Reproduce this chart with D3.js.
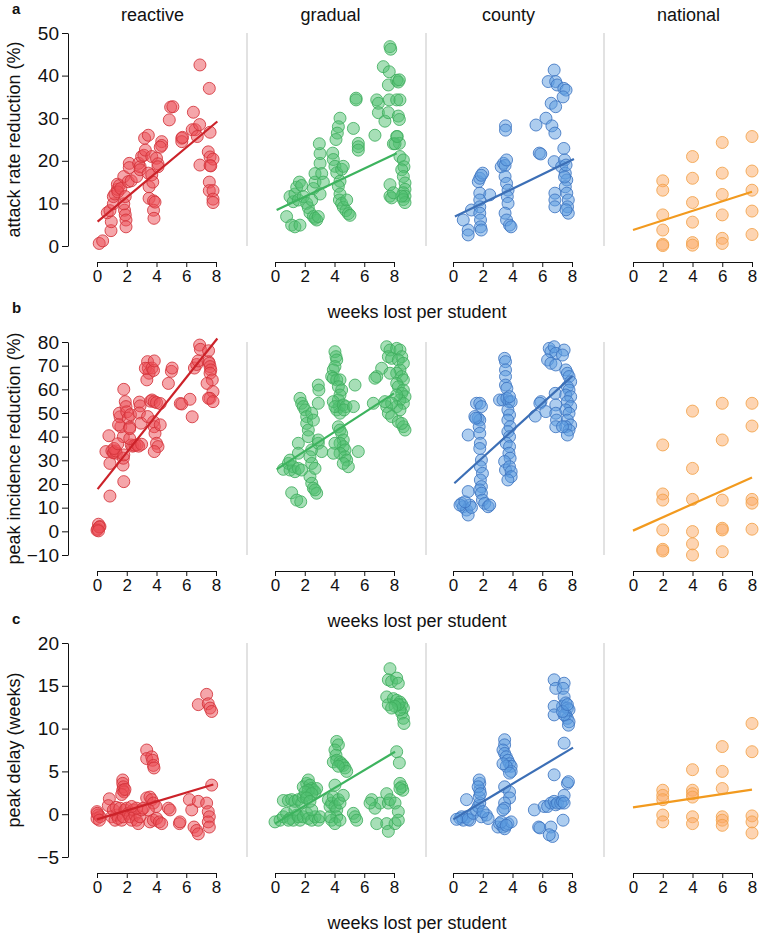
<!DOCTYPE html>
<html><head><meta charset="utf-8">
<script src="https://cdn.jsdelivr.net/npm/d3@7"></script>
<style>
body{margin:0;background:#fff;}
svg{display:block;font-family:"Liberation Sans",Arial,Helvetica,sans-serif;}
</style></head><body><svg id="chart" width="761" height="935"></svg>
<script>
// ---------- DATA ----------
const strategies = ["reactive", "gradual", "county", "national"];
const panelLetters = ["a", "b", "c"];
const yLabels = ["attack rate reduction (%)", "peak incidence reduction (%)", "peak delay (weeks)"];
const xLabel = "weeks lost per student";
const xTicks = [0, 2, 4, 6, 8];
const yTicksAttack = [0, 10, 20, 30, 40, 50];
const yTicksPeak = [-10, 0, 10, 20, 30, 40, 50, 60, 70, 80];
const yTicksDelay = [-5, 0, 5, 10, 15, 20];

// [weeks lost, attack rate reduction %]
const attackReactive = [[0.15,0.6],[0.38,1.2],[0.94,3.6],[0.96,5.7],[0.69,7.8],[0.87,8.3],[1.1,9.9],[1.1,11.6],[1.2,12.2],[1.37,13.3],[1.37,14.5],[1.5,14.2],[1.4,12.7],[1.6,13.5],[1.8,16.3],[1.85,8.4],[1.9,7.3],[1.95,6.1],[1.95,4.5],[1.8,9.9],[1.9,11.6],[2.1,15.1],[2.17,19.4],[2.17,18.4],[2.3,15.3],[2.67,16.3],[2.8,19.4],[2.9,18.6],[2.9,17.9],[3.0,21],[3.15,21.3],[3.2,25.3],[3.25,22.5],[3.45,26],[3.45,17.1],[3.5,13.9],[3.5,11.2],[3.68,21],[3.68,16.7],[3.75,15],[3.8,10.6],[3.8,8.4],[3.83,6.5],[3.9,10.3],[4.0,20.6],[4.1,19.3],[4.1,18.6],[4.35,24.5],[4.35,23.6],[4.25,23.2],[4.95,32.6],[5.1,32.7],[4.86,29.6],[5.7,25.3],[5.7,24.5],[5.75,25.5],[6.48,31.4],[6.6,27.3],[6.4,27.3],[6.74,25.7],[6.9,28.5],[6.92,42.5],[6.92,19],[7.55,37],[7.6,26.7],[7.48,22.1],[7.6,20.9],[7.6,18.9],[7.8,20.4],[7.55,15],[7.55,13],[7.8,13],[7.8,11],[7.8,10.2],[7.65,18.8]];
const attackGradual = [[0.78,6.9],[1.12,4.9],[1.34,4.5],[1.68,4.9],[1.01,11.6],[1.23,10.4],[1.34,12.2],[1.46,13.8],[1.64,15],[1.79,14.2],[1.57,10.8],[1.9,11.6],[2.13,10],[2.24,9],[2.35,7.8],[2.58,6.9],[2.8,6.1],[2.69,6.5],[2.91,6.9],[2.47,10.8],[2.58,13.5],[2.69,15],[2.69,17],[3.03,19.4],[3.03,21.7],[2.98,24],[3.14,17],[3.25,15],[3.03,12.2],[4.37,30],[4.26,28],[4.19,26.5],[4.1,25],[3.88,21.8],[3.92,20.3],[4.03,18.7],[4.15,17.2],[4.37,15.2],[4.26,14],[4.48,18],[4.59,18.7],[4.37,12.2],[4.33,10.8],[4.48,10],[4.59,9.1],[4.77,8.3],[4.93,7.6],[5.04,7.2],[4.82,10.8],[5.27,27.6],[5.45,34.7],[5.45,34.3],[5.6,24.1],[5.6,23.3],[5.6,22.5],[6.72,26],[6.84,34.3],[6.95,33.5],[7.28,42.1],[6.95,31.3],[7.39,29.3],[7.62,31.3],[7.68,34.3],[7.68,40.9],[7.73,46.8],[7.78,46.2],[7.62,37.8],[8.18,38.9],[8.29,38.5],[8.36,39],[8.18,34.3],[8.29,30.5],[8.36,29.7],[8.4,34.3],[8.18,25.7],[8.36,24.1],[8.4,21],[8.63,20.2],[8.67,18.6],[8.52,17.9],[8.63,16.3],[8.74,14.8],[8.74,13.3],[8.63,12.5],[8.74,11.7],[8.63,10.9],[8.74,10.2],[8.52,11.7],[7.73,14.4],[7.73,11.7],[7.84,11.3],[7.96,12.5],[7.96,24],[8.07,24],[8.22,25.7]];
const attackCounty = [[0.69,6.1],[1.02,3.75],[1.02,2.6],[1.24,8.45],[1.7,15.1],[1.8,15.9],[2.0,17.1],[1.9,16.6],[1.8,12.4],[1.8,10.8],[1.8,9.2],[1.8,7.7],[1.85,6.1],[1.85,4.5],[1.9,3.75],[2.47,12],[3.24,18.6],[3.4,19.4],[3.5,18.9],[3.6,20.2],[3.53,28.2],[3.53,27.2],[3.5,16.3],[3.6,14.7],[3.7,13.1],[3.65,11.6],[3.7,10],[3.5,7.7],[3.6,6.1],[3.8,4.9],[3.9,4.5],[5.58,28.4],[5.8,21.8],[5.9,21.6],[6.25,30],[6.4,38.6],[6.8,41.3],[6.9,38.6],[7.0,37.8],[6.6,33.5],[6.9,32.7],[6.65,28.2],[6.85,26.5],[7.45,37],[7.6,36.6],[7.4,35],[7.45,22.9],[6.8,19.8],[7.3,18.6],[7.55,17.1],[7.65,15.5],[7.55,13.9],[7.65,12.4],[7.75,10.8],[7.7,9.2],[7.75,7.7],[6.85,12.4],[6.85,10.8],[6.85,9.2],[7.5,20.2],[7.6,19],[7.5,16.2],[7.6,8.5]];
const attackNational = [[2,15.3],[2,13.1],[2,7.3],[2,3.75],[2,0.4],[2,0.1],[4,21],[4,15.9],[4,10.2],[4,5.6],[4,0.8],[4,0.2],[6,24.3],[6,17.1],[6,12.1],[6,7.3],[6,1.8],[6,0.6],[8,25.7],[8,17.6],[8,13.1],[8,8.2],[8,2.7]];

// [weeks lost, peak incidence reduction %]
const peakReactive = [[0.05,1],[0.1,3],[0.2,2],[0.0,0.5],[0.15,1.8],[0.1,0.2],[0.87,14.9],[0.87,28.7],[0.8,40.4],[0.6,33.7],[1.0,34],[1.15,33.5],[1.3,33],[1.1,33.2],[1.25,34],[1.15,35],[1.8,21],[1.75,28],[1.77,30.9],[1.8,32.3],[1.77,40],[1.6,44.2],[1.55,48.4],[1.5,49.9],[1.45,45],[1.4,37],[1.8,60],[1.9,54.8],[1.95,52.7],[2.0,50.5],[2.1,47.8],[2.2,44],[2.25,49.3],[2.3,36.5],[2.4,36],[2.55,36.3],[2.7,36.6],[2.8,36],[3.0,36.8],[2.2,39.2],[2.2,43.4],[2.85,54.6],[2.9,53],[2.85,50],[2.95,45.7],[3.4,71.7],[3.45,68.9],[3.5,66.8],[3.35,64],[3.25,68.9],[3.7,69],[3.8,68],[3.85,72],[3.6,55],[3.7,55.5],[3.85,54.8],[4.0,54.4],[4.25,54],[3.8,46.3],[3.85,44.2],[3.9,41.4],[4.0,37.2],[4.1,35.8],[3.85,33.7],[3.4,48.5],[4.25,45],[4.8,62.5],[5.0,67.6],[5.05,69],[5.6,54],[5.7,53.8],[6.25,55.8],[6.4,48.4],[6.55,69],[6.7,70.5],[6.8,72],[6.9,78.7],[6.95,76.9],[7.5,76.3],[7.5,71.7],[7.55,71],[7.6,69.6],[7.65,68.2],[7.6,66.8],[7.75,64],[7.4,62.5],[7.8,59],[7.6,56.2],[7.5,56.2],[7.8,54.8]];
const peakGradual = [[0.56,26.2],[0.9,28.7],[1.01,25.9],[1.23,27.3],[1.34,25.2],[1.57,26.6],[1.79,25.9],[1.01,30.1],[1.12,16.3],[1.46,13.2],[1.73,12.5],[1.57,37.2],[1.57,33],[1.68,56.2],[1.79,54.1],[1.9,52.7],[2.02,51.3],[2.13,48.5],[2.13,45.6],[2.24,42.8],[2.24,40],[2.47,49.9],[2.58,47],[2.47,34.4],[2.35,31.5],[2.47,28.7],[2.35,23.1],[2.47,20.3],[2.58,18.2],[2.8,16.1],[2.69,17.5],[2.91,61.8],[2.95,59.7],[2.91,54.1],[2.91,37.2],[3.14,33.7],[2.91,38.6],[2.69,26.6],[4.03,75.9],[4.1,73.8],[4.15,72.4],[4.03,69.6],[3.92,68.2],[3.81,65.4],[3.92,64.7],[4.15,64],[4.37,64],[4.26,61.1],[4.48,59.7],[4.37,57.6],[4.26,55.5],[4.33,52.7],[4.15,51.3],[4.37,49.9],[3.92,54.8],[4.03,52.7],[4.59,53.4],[4.77,52.7],[4.64,51.3],[5.27,52.7],[5.38,61.8],[4.26,44.2],[4.37,42.8],[4.48,41.4],[4.59,38.6],[4.37,37.2],[4.59,35.8],[4.71,34.4],[4.37,33],[4.71,31.5],[4.82,30.1],[4.93,27.3],[4.59,28.7],[3.92,33],[4.03,37.2],[5.6,33.7],[6.61,54.1],[6.84,65.4],[6.72,64.7],[7.17,68.9],[7.51,78],[7.73,76.6],[7.62,73.8],[7.84,73.1],[8.18,77.3],[8.4,76.6],[8.52,73.8],[8.29,72.4],[8.63,71],[8.4,68.2],[8.18,66.8],[8.52,65.4],[8.63,64],[7.73,66.8],[8.18,62.5],[8.29,61.1],[8.63,59.7],[8.52,58.3],[8.74,56.9],[8.4,55.5],[8.63,54.1],[8.18,52.7],[8.4,51.3],[7.51,52.7],[7.62,49.9],[7.84,48.5],[8.29,46.3],[8.63,44.2],[8.74,42.8],[8.52,45.6],[8.18,57.6],[7.84,54.1],[7.39,54.8]];
const peakCounty = [[0.58,11.8],[0.69,10.4],[0.91,9],[1.02,6.9],[1.13,11.1],[1.24,10.1],[0.47,11.1],[0.8,12.5],[1.02,16.8],[1.02,40.7],[1.58,54.1],[1.8,54.1],[1.91,52.7],[1.69,47.8],[1.8,47],[1.76,44.2],[1.8,41.4],[1.84,37.2],[1.8,35],[1.91,30.1],[1.84,27.3],[1.98,24.5],[1.84,21.7],[1.91,18.9],[1.8,17.5],[1.91,16.1],[1.98,13.2],[2.13,11.8],[2.36,10.4],[2.47,11.1],[1.47,48.5],[1.53,47.8],[3.47,73.1],[3.53,71.7],[3.53,68.2],[3.53,65.4],[3.53,61.8],[3.62,60.4],[3.13,55.5],[3.36,55.5],[3.62,56.2],[3.76,54.8],[3.91,54.8],[3.8,56.9],[3.69,51.3],[3.8,49.2],[3.69,47],[3.84,44.2],[3.69,42.1],[3.8,40],[3.58,37.2],[3.8,35.8],[3.76,33],[3.84,30.9],[3.47,29.5],[3.53,25.9],[3.8,27.3],[3.91,25.2],[3.91,23.1],[3.69,21.7],[5.53,48.7],[5.91,54.8],[5.84,54.1],[6.24,50.6],[6.47,77.3],[6.58,75.9],[6.8,78],[6.91,75.2],[7.47,76.6],[7.36,74.5],[6.36,72.4],[6.58,71],[6.91,70.3],[6.87,58.3],[6.91,53.4],[6.91,49.9],[6.96,47],[6.91,44.2],[7.58,68.2],[7.69,66.8],[7.8,65.4],[7.91,63.2],[7.69,61.1],[7.8,59.7],[7.58,57.6],[7.91,56.9],[7.69,54.8],[7.91,52.7],[7.58,51.3],[7.8,49.9],[7.69,47],[7.91,44.9],[7.58,44.2],[7.8,42.8],[7.69,40.7],[7.36,44.2]];
const peakNational = [[2,36.5],[2,15.8],[2,13.2],[2,0.6],[2,-7.6],[2,-8.3],[4,50.8],[4,26.6],[4,13.5],[4,-0.1],[4,-5.3],[4,-10],[6,54.1],[6,38.6],[6,13.2],[6,1.3],[6,0.6],[6,-8.6],[8,54.1],[8,44.5],[8,13.5],[8,11.9],[8,0.9]];

// [weeks lost, peak delay in weeks]
const delayReactive = [[0,0.3],[0.09,-0.1],[0,-0.5],[0.2,-0.3],[0.02,0.1],[0.16,-0.7],[0.83,1.8],[0.76,1.0],[0.99,-0.3],[1.21,-0.7],[1.32,-0.1],[1.43,-0.5],[1.1,0.5],[1.28,0.8],[1.54,0.7],[1.66,-0.7],[1.77,-0.3],[1.88,0.5],[1.73,4.0],[1.73,3.6],[1.77,3.2],[1.73,2.8],[1.82,2.6],[1.66,2.3],[1.88,2.9],[1.99,0.7],[2.1,0.1],[2.21,-0.3],[2.33,-0.7],[2.44,0.5],[2.55,-0.1],[2.66,-0.7],[2.77,-1.1],[2.89,-0.3],[3.0,0.5],[2.66,0.7],[2.33,0.9],[3.34,7.5],[3.34,6.5],[3.68,6.7],[3.74,6.3],[3.79,5.7],[3.83,5.4],[3.34,1.9],[3.56,2.0],[3.68,1.7],[3.79,1.3],[3.97,0.9],[3.45,0.5],[3.56,-0.9],[3.79,-0.7],[4.01,-0.5],[4.19,-0.9],[4.35,-1.1],[3.11,0.7],[4.8,0.7],[4.91,0.5],[5.54,-1.1],[5.58,-0.9],[6.21,1.7],[6.37,0.5],[6.81,1.5],[6.52,-1.5],[6.7,-1.9],[6.81,-2.3],[6.81,12.8],[7.37,14.0],[7.48,12.9],[7.6,12.4],[7.71,12.0],[7.37,1.3],[7.48,0.3],[7.55,-0.3],[7.48,-0.9],[7.55,-1.5],[7.71,3.4]];
const delayGradual = [[0,-0.9],[0.34,-0.7],[0.56,-0.3],[0.78,0.1],[1.01,-0.5],[1.23,-0.7],[1.46,-0.1],[1.68,-0.7],[0.9,-0.7],[1.34,0.5],[1.57,-0.3],[1.9,-0.3],[2.13,0.1],[2.24,-0.5],[2.47,-0.7],[2.69,-0.3],[2.91,-0.7],[3.03,-0.3],[2.47,0.5],[0.56,1.6],[0.9,1.6],[1.12,1.7],[1.34,1.5],[1.57,1.7],[1.79,1.3],[1.9,2.0],[2.13,2.2],[1.9,3.2],[2.13,3.6],[2.24,4.0],[2.35,3.4],[2.47,3.0],[2.58,2.8],[2.69,2.6],[2.8,3.0],[2.24,2.8],[2.02,2.6],[2.47,2.4],[2.13,1.9],[2.35,1.5],[3.59,1.7],[3.7,0.9],[3.81,1.3],[3.92,2.0],[4.03,0.9],[4.15,0.5],[4.26,1.7],[4.37,1.3],[4.59,2.2],[4.15,-0.3],[3.81,-0.7],[3.7,-0.3],[4.03,-1.1],[4.37,-0.7],[5.27,0.1],[5.38,-0.3],[5.49,-0.7],[4.15,8.5],[4.26,8.1],[4.03,7.5],[4.1,6.9],[3.92,6.1],[4.15,6.3],[4.37,6.1],[4.48,5.9],[4.59,5.7],[4.71,5.4],[4.82,5.0],[4.26,5.6],[4.03,3.4],[6.5,1.7],[6.72,0.7],[6.84,-1.1],[7.06,1.3],[7.51,2.4],[7.62,1.3],[7.73,1.7],[8.07,1.3],[8.29,0.3],[7.51,-1.1],[7.62,-2.0],[8.07,-1.1],[8.29,-0.7],[6.39,1.3],[7.73,17.0],[7.62,15.7],[7.84,15.5],[8.18,15.9],[8.29,15.3],[7.51,13.7],[7.62,12.8],[7.96,13.5],[8.18,13.3],[8.4,13.1],[8.52,12.8],[8.63,12.4],[8.52,11.8],[8.63,11.2],[8.67,10.6],[8.4,12.2],[8.29,12.8],[8.07,12.6],[7.84,12.4],[8.18,7.3],[8.36,6.0],[8.4,3.6],[8.52,3.2],[8.59,2.8],[8.4,3.0]];
const delayCounty = [[0.47,-0.5],[0.69,-0.7],[0.91,-0.3],[1.13,-0.7],[0.58,-0.3],[1.02,-0.6],[0.24,-0.6],[0.91,1.7],[1.36,0.1],[1.58,0.5],[1.69,0.9],[1.8,1.3],[1.76,2.0],[1.8,2.8],[1.8,3.6],[1.76,4.0],[1.69,3.2],[1.84,2.4],[1.91,-0.3],[2.24,-0.1],[2.36,-0.5],[2.02,0.3],[3.02,-1.5],[3.13,-1.1],[3.36,-1.5],[3.47,-1.7],[3.69,-1.1],[3.91,-0.9],[3.24,-0.9],[3.58,-1.3],[3.47,8.7],[3.47,8.1],[3.36,7.5],[3.47,7.1],[3.58,6.7],[3.69,6.3],[3.8,5.9],[3.91,5.6],[3.91,5.0],[3.58,5.6],[3.8,4.8],[3.36,5.9],[3.47,3.2],[3.8,2.6],[3.8,1.9],[3.47,1.3],[3.47,0.7],[3.36,0.5],[5.47,0.5],[5.76,-1.5],[5.84,-1.6],[6.13,0.9],[6.36,0.9],[6.58,1.3],[6.8,1.5],[6.91,1.1],[7.02,1.3],[7.24,1.3],[7.36,1.5],[7.47,2.2],[7.47,1.3],[7.69,3.6],[7.76,3.8],[6.58,-1.5],[6.69,-2.6],[6.47,-2.4],[6.8,4.6],[7.4,-0.7],[7.47,8.3],[6.8,15.7],[6.91,14.7],[7.47,15.3],[7.4,14.7],[7.47,13.7],[7.36,12.6],[7.58,13.0],[7.69,12.4],[7.8,12.2],[7.58,11.6],[7.69,11.2],[7.8,10.8],[7.76,10.4],[6.8,12.6],[6.8,11.6],[7.47,11.6],[7.36,12.0],[7.69,12.8]];
const delayNational = [[2,2.8],[2,2.2],[2,1.7],[2,-0.1],[2,-0.9],[4,5.2],[4,2.8],[4,2.4],[4,2.0],[4,-0.3],[4,-1.1],[6,7.9],[6,5.0],[6,3.0],[6,-0.3],[6,-0.7],[6,-1.3],[8,10.6],[8,7.3],[8,-0.2],[8,-0.9],[8,-2.2]];

// fitted trend lines per strategy: [intercept, slope, xStart, xEnd]
const fitAttack = [[5.6, 2.92, 0.04, 8.09], [8.27, 1.65, 0.11, 8.18], [6.68, 1.69, 0.13, 8.13], [3.75, 1.125, 0, 8]];
const fitPeak = [[17.5, 7.91, 0.04, 8.09], [25.75, 4.07, 0.11, 8.0], [19.8, 5.71, 0.09, 8.02], [0.3, 2.81, 0, 8]];
const fitDelay = [[-0.6, 0.52, 0, 7.82], [-1.1, 1.04, 0, 8.07], [-0.62, 1.04, 0.02, 8.07], [0.8, 0.26, 0, 8]];

// ---------- STYLE / LAYOUT ----------
const palette = [
  {fill: "#EC4D55", stroke: "#D4323A", line: "#CC2229"},
  {fill: "#4FBF6F", stroke: "#3FAE5E", line: "#3DB35E"},
  {fill: "#5B9BE0", stroke: "#3E75C2", line: "#3C6FB6"},
  {fill: "#FBAA65", stroke: "#F2A24A", line: "#F29A1F"}
];
const rows = [
  {top: 33, h: 213, letterY: 14, domain: [0, 50], ticks: yTicksAttack, data: [attackReactive, attackGradual, attackCounty, attackNational], fit: fitAttack},
  {top: 342, h: 213, letterY: 313, domain: [-10, 80], ticks: yTicksPeak, data: [peakReactive, peakGradual, peakCounty, peakNational], fit: fitPeak},
  {top: 643, h: 214, letterY: 624, domain: [-5, 20], ticks: yTicksDelay, data: [delayReactive, delayGradual, delayCounty, delayNational], fit: fitDelay}
];
const colX0 = [97, 275, 453, 633];
const colW = 119;
const sepX = [247, 426, 604];
const yAxisX = 68;

const svg = d3.select("#chart");

// column titles
strategies.forEach((s, ci) => {
  svg.append("text").attr("x", colX0[ci] + colW / 2 - 4).attr("y", 21)
    .attr("text-anchor", "middle").attr("font-size", 18).attr("fill", "#111").text(s);
});

rows.forEach((row, ri) => {
  const y = d3.scaleLinear().domain(row.domain).range([row.top + row.h, row.top]);
  const bottom = row.top + row.h;
  const axisY = bottom + 16;

  // panel letter
  svg.append("text").attr("x", 12).attr("y", row.letterY)
    .attr("font-size", 15).attr("font-weight", "bold").attr("fill", "#111").text(panelLetters[ri]);

  // y axis
  const gy = svg.append("g").attr("transform", `translate(${yAxisX},0)`)
    .call(d3.axisLeft(y).tickValues(row.ticks).tickSize(6).tickPadding(3).tickSizeOuter(0));
  gy.attr("font-family", null);
  gy.selectAll("text").attr("font-size", 19).attr("fill", "#111");
  gy.selectAll("line,path").attr("stroke", "#111");

  // y label
  svg.append("text").attr("transform", `translate(20,${row.top + row.h / 2}) rotate(-90)`)
    .attr("text-anchor", "middle").attr("font-size", 18).attr("fill", "#111").text(yLabels[ri]);

  // x label
  svg.append("text").attr("x", 417).attr("y", axisY + 56)
    .attr("text-anchor", "middle").attr("font-size", 18).attr("fill", "#111").text(xLabel);

  // separators
  sepX.forEach(sx => {
    svg.append("line").attr("x1", sx).attr("x2", sx).attr("y1", row.top).attr("y2", bottom)
      .attr("stroke", "#cfcfcf").attr("stroke-width", 1.2);
  });

  strategies.forEach((s, ci) => {
    const x = d3.scaleLinear().domain([0, 8]).range([colX0[ci], colX0[ci] + colW]);
    const gx = svg.append("g").attr("transform", `translate(0,${axisY})`)
      .call(d3.axisBottom(x).tickValues(xTicks).tickSize(5).tickPadding(3).tickSizeOuter(0));
    gx.attr("font-family", null);
    gx.selectAll("text").attr("font-size", 17).attr("fill", "#111");
    gx.selectAll("line,path").attr("stroke", "#111");

    const col = palette[ci];
    svg.append("g").selectAll("circle").data(row.data[ci]).join("circle")
      .attr("cx", d => x(d[0])).attr("cy", d => y(d[1])).attr("r", 6)
      .attr("fill", col.fill).attr("fill-opacity", 0.5)
      .attr("stroke", col.stroke).attr("stroke-opacity", 0.85).attr("stroke-width", 1);

    const f = row.fit[ci];
    svg.append("line")
      .attr("x1", x(f[2])).attr("y1", y(f[0] + f[1] * f[2]))
      .attr("x2", x(f[3])).attr("y2", y(f[0] + f[1] * f[3]))
      .attr("stroke", col.line).attr("stroke-width", 2.2);
  });
});
</script></body></html>
